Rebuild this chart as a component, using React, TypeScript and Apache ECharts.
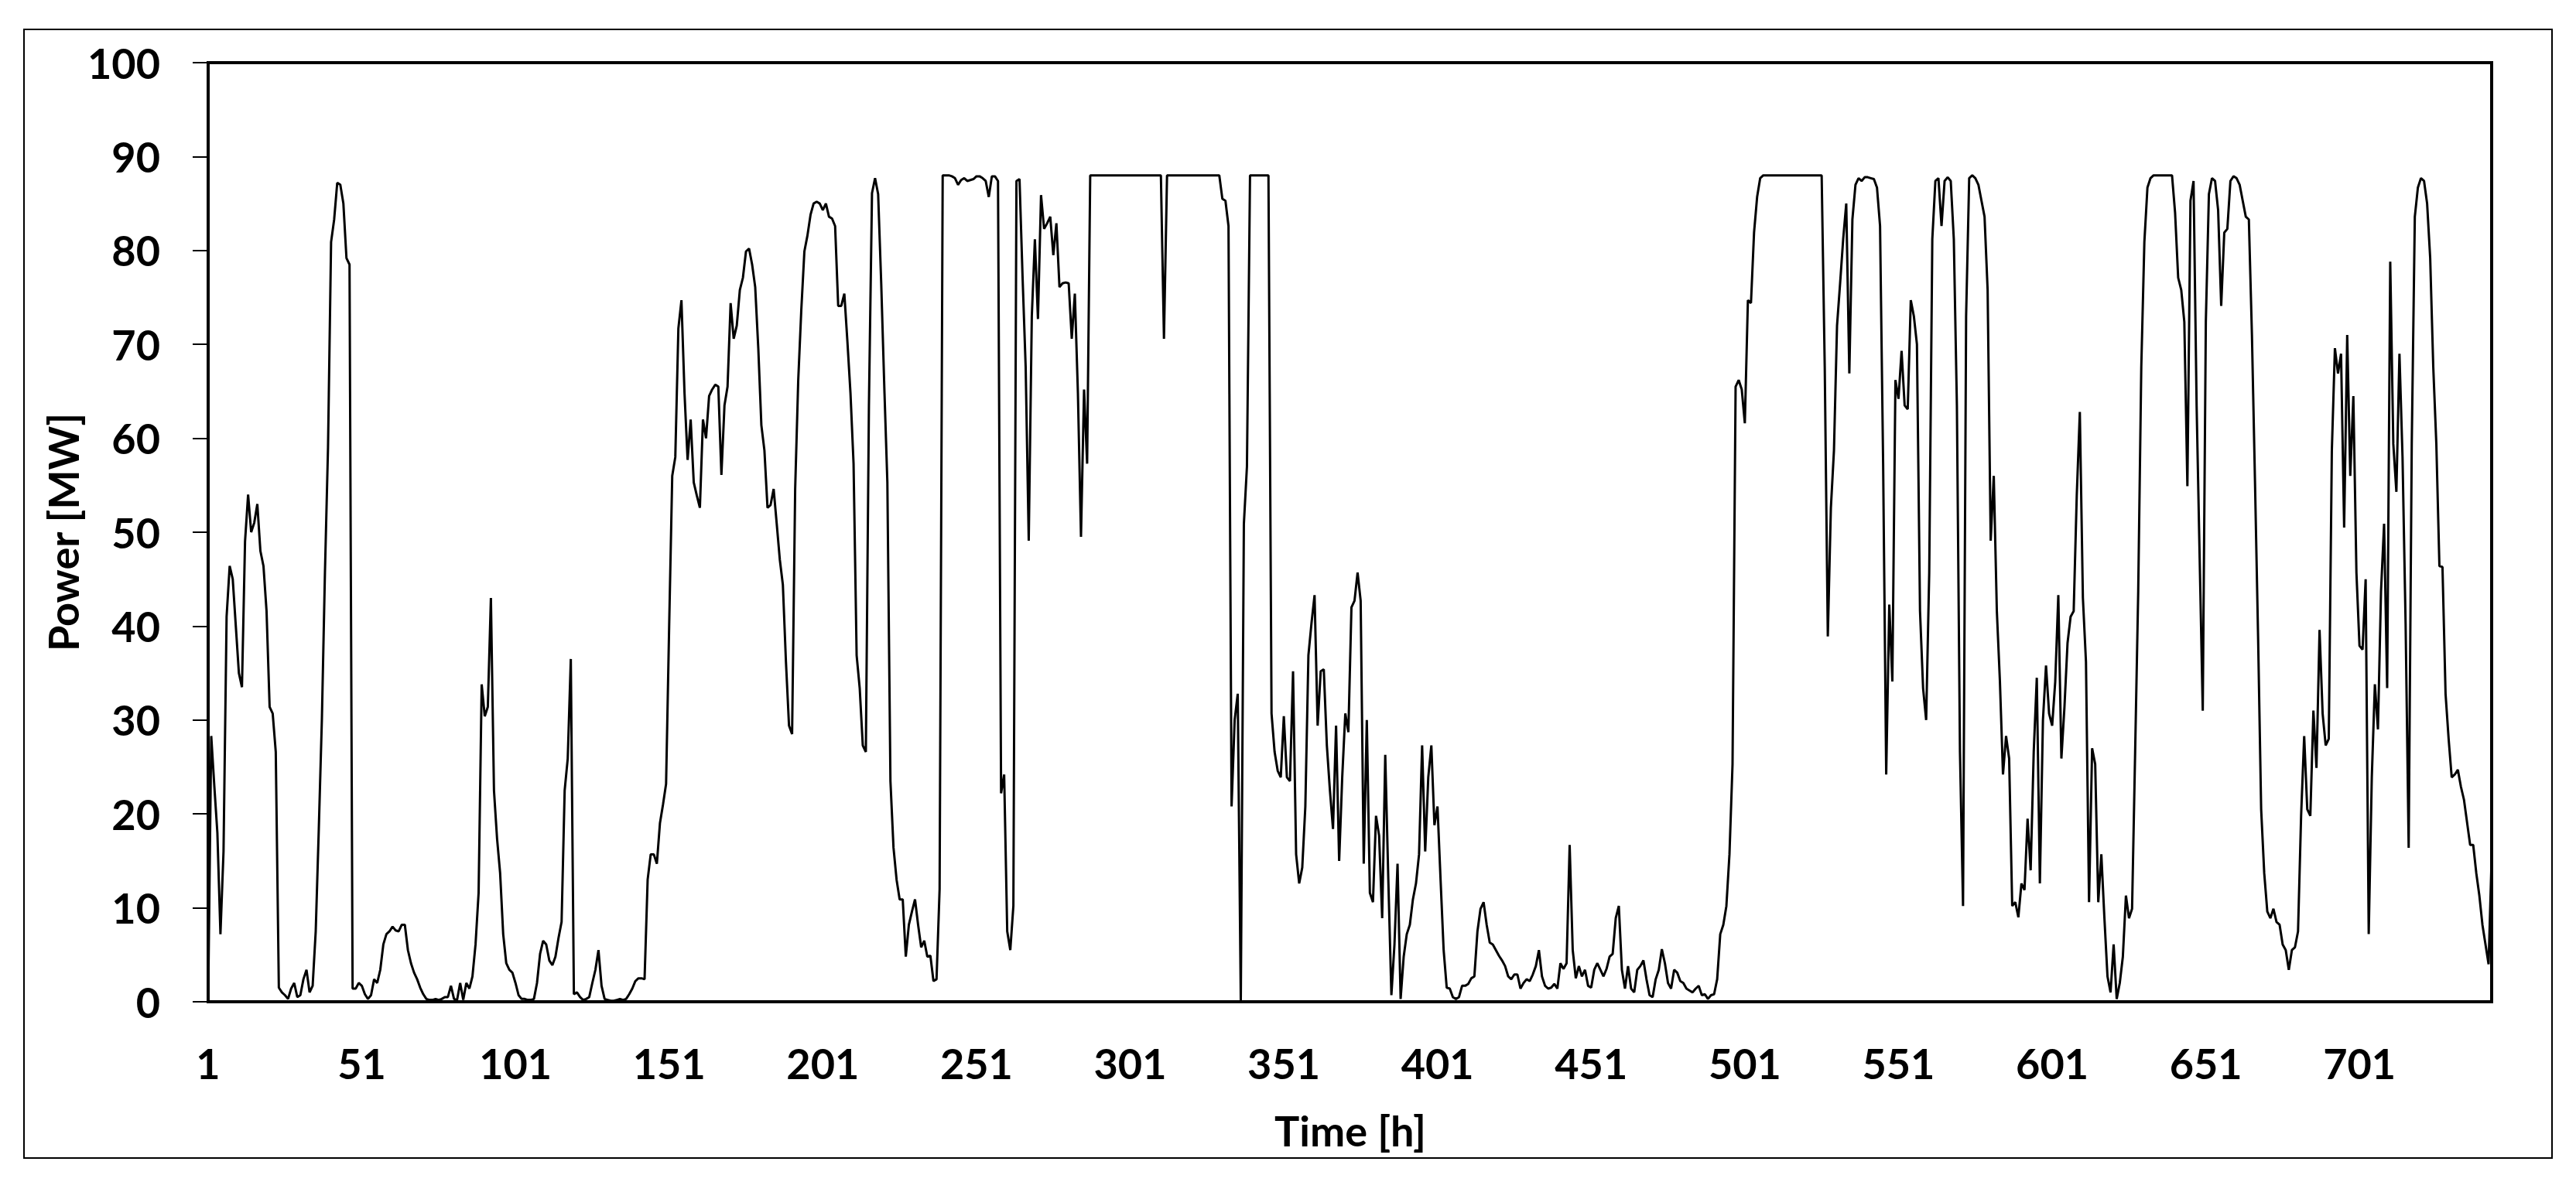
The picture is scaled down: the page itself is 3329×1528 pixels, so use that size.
import React, { useEffect, useRef } from "react";
import * as echarts from "echarts";

// Hourly power [MW], hour 1 .. 744
const hours1to73 = [
  0, 28.3, 23, 18, 7.2, 16, 41, 46.4, 45, 40,
  35, 33.5, 49, 54, 50, 51, 53, 48, 46.4, 41.6,
  31.4, 30.7, 26.6, 1.5, 1, 0.7, 0.3, 1.4, 2, 0.5,
  0.7, 2.4, 3.4, 1, 1.7, 7.5, 18.4, 30, 45.7, 59,
  80.9, 83.3, 87.2, 87, 85, 79.2, 78.5, 1.4, 1.4, 2,
  1.7, 0.8, 0.3, 0.7, 2.4, 2, 3.4, 6.1, 7.2, 7.5,
  8, 7.6, 7.5, 8.2, 8.2, 5.5, 4.1, 3.1, 2.4, 1.5,
  0.8, 0.3, 0.2,
];
const hours74to149 = [
  0.2, 0.3, 0.2, 0.3, 0.5, 0.5, 1.7,
  0.3, 0.2, 2, 0.2, 2, 1.4, 2.7, 6.1, 11.6, 33.8,
  30.4, 31.4, 43, 22.5, 17.4, 13.7, 7.2, 4.1, 3.4, 3.1,
  2, 0.7, 0.3, 0.3, 0.2, 0.2, 0.3, 2, 5.1, 6.5,
  6.1, 4.4, 3.9, 4.8, 6.8, 8.5, 22.5, 25.9, 36.5, 0.8,
  1, 0.5, 0.2, 0.3, 0.5, 2, 3.4, 5.5, 1.7, 0.3,
  0.2, 0.1, 0.1, 0.2, 0.3, 0.2, 0.3, 0.8, 1.4, 2.2,
  2.5, 2.5, 2.4, 13, 15.7, 15.7, 14.7, 19, 21,
];
const hours150to225 = [
  23.2, 40, 56, 58, 71.7, 74.7, 64.8, 57.7, 62, 55.3,
  53.9, 52.6, 62, 60, 64.5, 65.2, 65.7, 65.5, 56.1, 63.5,
  65.5, 74.4, 70.6, 72, 75.8, 77.1, 79.9, 80.2, 78.5, 76.1,
  69.6, 61.4, 58.7, 52.6, 52.9, 54.6, 50.9, 47.1, 44.4, 36.2,
  29.4, 28.5, 54.6, 66.2, 73.7, 79.9, 81.6, 83.8, 85, 85.2,
  85, 84.3, 85, 83.6, 83.4, 82.6, 74.1, 74.1, 75.4, 70.3,
  64.8, 57.3, 36.9, 33.4, 27.3, 26.6, 63.5, 86.1, 87.7, 86,
  76.5, 65.5, 55.3, 23.5, 16.4, 13,
];
const hours226to298 = [
  10.9, 10.9, 4.8, 8.2, 9.6, 10.9, 8.2, 5.8, 6.5, 4.8,
  4.9, 2.2, 2.4, 12, 88, 88, 88, 87.9, 87.7, 87,
  87.5, 87.7, 87.4, 87.5, 87.6, 87.9, 87.9, 87.7, 87.4, 85.7,
  87.9, 87.9, 87.4, 22.2, 24.2, 7.5, 5.5, 10.2, 87.4, 87.6,
  77.1, 67.6, 49.1, 73, 81.2, 72.7, 85.9, 82.3, 82.9, 83.6,
  79.5, 82.9, 76.1, 76.5, 76.6, 76.5, 70.6, 75.4, 64.8, 49.5,
  65.2, 57.3, 88, 88, 88, 88, 88, 88, 88, 88,
  88, 88, 88,
];
const hours299to376 = [
  88, 88, 88, 88, 88, 88, 88, 88, 88, 88,
  88, 88, 88, 70.6, 88, 88, 88, 88, 88, 88,
  88, 88, 88, 88, 88, 88, 88, 88, 88, 88,
  88, 88, 85.5, 85.3, 82.6, 20.8, 30, 32.8, 0, 50.9,
  57, 88, 88, 88, 88, 88, 88, 88, 30.7, 26.6,
  24.6, 23.9, 30.4, 23.9, 23.5, 35.2, 15.7, 12.6, 14.3, 20.8,
  36.9, 40.3, 43.3, 29.4, 35.2, 35.4, 27.3, 22.5, 18.4, 29.4,
  15, 23.9, 30.7, 28.7, 42, 42.7, 45.7, 42.7,
];
const hours377to449 = [
  14.7, 30, 11.6, 10.6, 19.8, 17.7, 8.9, 26.3, 13, 0.7,
  6.1, 14.7, 0.3, 4.8, 7.2, 8.2, 10.9, 12.6, 15.7, 27.3,
  16, 23.9, 27.3, 18.8, 20.8, 13, 5.5, 1.5, 1.4, 0.5,
  0.3, 0.5, 1.7, 1.7, 1.9, 2.5, 2.7, 7.5, 9.9, 10.6,
  8.2, 6.3, 6.1, 5.5, 4.9, 4.4, 3.8, 2.7, 2.4, 2.9,
  2.9, 1.4, 2, 2.4, 2.2, 2.9, 3.8, 5.5, 2.7, 1.7,
  1.4, 1.5, 1.9, 1.4, 4.1, 3.5, 4.1, 16.7, 5.5, 2.5,
  3.8, 2.7, 3.4,
];
const hours450to526 = [
  1.7, 1.5, 3.4, 4.1, 3.4, 2.7, 3.5, 4.8, 5.1, 8.9,
  10.2, 3.4, 1.4, 3.8, 1.4, 1, 3.4, 3.8, 4.4, 2.4,
  0.7, 0.5, 2.4, 3.4, 5.6, 4.1, 2, 1.4, 3.4, 3.1,
  2.2, 2, 1.4, 1.2, 1, 1.4, 1.7, 0.7, 0.8, 0.3,
  0.7, 0.8, 2.4, 7.2, 8.2, 10.2, 15.7, 25.3, 65.5, 66.2,
  65.2, 61.6, 74.7, 74.4, 81.9, 85.7, 87.7, 88, 88, 88,
  88, 88, 88, 88, 88, 88, 88, 88, 88, 88,
  88, 88, 88, 88, 88, 88, 88,
];
const hours527to600 = [
  67.6, 38.9, 52.6, 58.7, 72, 76.5, 81.2, 85, 66.9, 83.3,
  87, 87.7, 87.4, 87.8, 87.8, 87.7, 87.6, 86.7, 82.6, 57.3,
  24.2, 42.3, 34.1, 66.2, 64.2, 69.3, 63.5, 63.1, 74.7, 73,
  70, 41.6, 33.4, 30, 45.7, 81.2, 87.4, 87.7, 82.6, 87.4,
  87.8, 87.4, 81.2, 63.5, 26.6, 10.2, 73, 87.7, 88, 87.7,
  87, 85.3, 83.6, 75.8, 49.1, 56, 41.6, 34.1, 24.2, 28.3,
  25.9, 10.2, 10.6, 9, 12.6, 11.9, 19.5, 14, 26.6, 34.5,
  12.6, 30, 35.8, 30.7,
];
const hours601to676 = [
  29.4, 34.1, 43.3, 25.9, 31.4, 38.2, 41, 41.6, 53.9, 62.8,
  43, 36.2, 10.6, 27, 25.3, 10.6, 15.7, 8.9, 2.7, 1,
  6.1, 0.3, 2, 4.8, 11.3, 8.9, 9.9, 26.6, 43.7, 67.6,
  80.9, 86.7, 87.7, 88, 88, 88, 88, 88, 88, 88,
  84, 77.1, 75.8, 72.4, 54.9, 85.3, 87.4, 63.5, 47.1, 31,
  72.4, 86, 87.7, 87.4, 84.3, 74.1, 81.9, 82.3, 87.4, 87.9,
  87.7, 87, 85.3, 83.6, 83.3, 71, 55.3, 38.9, 20.5, 13.7,
  9.6, 8.9, 9.9, 8.5, 8.2, 6.1,
];
const hours677to744 = [
  5.5, 3.4, 5.5, 5.8, 7.5, 19.8, 28.3, 20.5, 19.8, 31,
  24.9, 39.6, 30.7, 27.3, 28, 58.7, 69.6, 66.9, 69, 50.5,
  71, 56, 64.5, 45.7, 37.9, 37.5, 45, 7.2, 23.9, 33.8,
  29, 43.7, 50.9, 33.4, 78.8, 59.4, 54.3, 69, 58, 40.3,
  16.4, 59.4, 83.6, 86.7, 87.7, 87.4, 85, 79.2, 67.6, 59.4,
  46.4, 46.3, 32.8, 28, 23.9, 24.2, 24.7, 22.9, 21.5, 19.1,
  16.7, 16.7, 13.7, 11.3, 8.2, 6.1, 4, 15.4,
];

const power = [
  ...hours1to73, ...hours74to149, ...hours150to225, ...hours226to298,
  ...hours299to376, ...hours377to449, ...hours450to526, ...hours527to600,
  ...hours601to676, ...hours677to744,
];
// category labels: hour numbers 1..N
const hours = power.map((_, i) => String(i + 1));

const yTitle = "Power [MW]";
const xTitle = "Time [h]";

const FONT = "Lato, 'Liberation Sans', sans-serif";

export default function App() {
  const ref = useRef<HTMLDivElement>(null);
  useEffect(() => {
    if (!ref.current) return;
    const chart = echarts.init(ref.current, null, { renderer: "svg" });
    chart.setOption({
      animation: false,
      backgroundColor: "#fff",
      grid: {
        left: 269,
        right: 109,
        top: 81,
        bottom: 233,
        show: true,
        borderColor: "#000",
        borderWidth: 4,
        backgroundColor: "transparent",
      },
      xAxis: {
        type: "category",
        data: hours,
        boundaryGap: false,
        axisLine: { show: false },
        axisTick: { show: false },
        splitLine: { show: false },
        axisLabel: {
          interval: 49,
          margin: 52,
          fontSize: 54,
          fontWeight: "bold",
          fontFamily: FONT,
          color: "#000",
        },
      },
      yAxis: {
        type: "value",
        min: 0,
        max: 100,
        interval: 10,
        splitLine: { show: false },
        axisLine: { show: true, lineStyle: { color: "#000", width: 4 } },
        axisTick: { show: true, length: 20, lineStyle: { color: "#000", width: 2 } },
        axisLabel: {
          margin: 62,
          fontSize: 54,
          fontWeight: "bold",
          fontFamily: FONT,
          color: "#000",
        },
      },
      series: [
        {
          type: "line",
          data: power,
          showSymbol: false,
          symbol: "none",
          lineStyle: { color: "#000", width: 3 },
          z: 3,
        },
      ],
      graphic: [
        {
          type: "rect",
          shape: { x: 31, y: 38, width: 3267, height: 1459 },
          style: { fill: "none", stroke: "#000", lineWidth: 2 },
          silent: true,
        },
        {
          type: "text",
          x: 81,
          y: 688,
          rotation: Math.PI / 2,
          style: {
            text: yTitle,
            font: `bold 54px ${FONT}`,
            fill: "#000",
            textAlign: "center",
            textVerticalAlign: "middle",
          },
        },
        {
          type: "text",
          x: 1745,
          y: 1461,
          style: {
            text: xTitle,
            font: `bold 54px ${FONT}`,
            fill: "#000",
            textAlign: "center",
            textVerticalAlign: "middle",
          },
        },
      ],
    });
    return () => chart.dispose();
  }, []);
  return (
    <div
      ref={ref}
      style={{ position: "absolute", left: 0, top: 0, width: 3329, height: 1528, background: "#fff" }}
    />
  );
}
